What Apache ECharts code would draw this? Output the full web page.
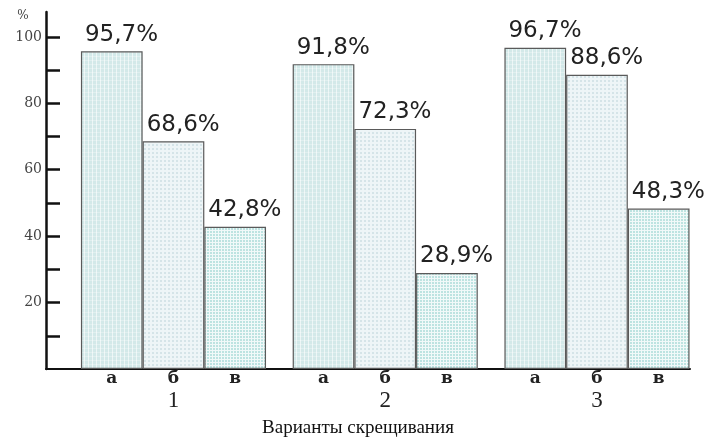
<!DOCTYPE html>
<html>
<head>
<meta charset="utf-8">
<title>Варианты скрещивания</title>
<script src="https://cdn.jsdelivr.net/npm/echarts@6/dist/echarts.min.js"></script>
<style>
  html, body { margin: 0; padding: 0; background: #ffffff; }
  #chart { width: 712px; height: 442px; }
</style>
</head>
<body>
<div id="chart"></div>
<script>
// Crossing variants and the share (%) for each sub-group а / б / в
const groups = ['1', '2', '3'];
const subLabels = ['а', 'б', 'в'];
const valuesA = [95.7, 91.8, 96.7];
const valuesB = [68.6, 72.3, 88.6];
const valuesV = [42.8, 28.9, 48.3];
const yTickValues = [10, 20, 30, 40, 50, 60, 70, 80, 90, 100];
const yLabelValues = [20, 40, 60, 80, 100];
const xTitle = 'Варианты скрещивания';

// Small tiled fills for the three bar kinds
function makePattern(size, draw) {
  const c = document.createElement('canvas');
  c.width = c.height = size;
  const ctx = c.getContext('2d');
  draw(ctx, size);
  return { image: c, repeat: 'repeat' };
}
const patterns = [
  makePattern(4, (ctx, s) => {          // fine plaid
    ctx.fillStyle = '#d3e9e9'; ctx.fillRect(0, 0, s, s);
    ctx.fillStyle = 'rgba(255,255,255,0.6)'; ctx.fillRect(0, 0, 1, s);
    ctx.fillStyle = 'rgba(255,255,255,0.3)'; ctx.fillRect(0, 0, s, 1);
  }),
  makePattern(4, (ctx, s) => {          // sparse dots
    ctx.fillStyle = '#eef5f7'; ctx.fillRect(0, 0, s, s);
    ctx.fillStyle = '#d5e4e8'; ctx.fillRect(0, 0, 2, 2);
  }),
  makePattern(3, (ctx, s) => {          // checker dots
    ctx.fillStyle = '#f1f9f9'; ctx.fillRect(0, 0, s, s);
    ctx.fillStyle = '#bde3e1'; ctx.fillRect(0, 0, 2, 2);
  })
];

const fmtPct = (v) => v.toFixed(1).replace('.', ',') + '%';

const chart = echarts.init(document.getElementById('chart'), null, { renderer: 'canvas' });

const barWidth = 61.7;

chart.setOption({
  animation: false,
  backgroundColor: '#ffffff',
  grid: [
    { left: 46, right: 22, top: 12, bottom: 73 },          // frame with the axes
    { left: 67.6, width: 635.25, top: 12, bottom: 73 }     // bar groups
  ],
  xAxis: [
    {
      gridIndex: 0, type: 'category', data: [''],
      axisLine: { show: true, lineStyle: { color: '#111', width: 2 } },
      axisTick: { show: false }, axisLabel: { show: false }, splitLine: { show: false }
    },
    {
      gridIndex: 1, type: 'category', data: groups,
      axisLine: { show: false }, axisTick: { show: false }, splitLine: { show: false },
      axisLabel: {
        margin: 0,
        interval: 0,
        formatter: (v) => subLabels.map(s => '{s|' + s + '}').join('') + '\n{g|' + v + '}',
        rich: {
          s: { width: barWidth, align: 'center', fontFamily: 'DejaVu Serif', fontWeight: 'bold',
               fontSize: 17, lineHeight: 20, color: '#222' },
          g: { align: 'center', fontFamily: 'Liberation Serif', fontSize: 23, lineHeight: 24, color: '#222' }
        }
      }
    }
  ],
  yAxis: [
    {
      gridIndex: 0, type: 'value', min: 0, max: 107.5,
      axisLine: { show: true, lineStyle: { color: '#111', width: 2.5 } },
      axisTick: { show: true, inside: true, length: 14, customValues: yTickValues,
                  lineStyle: { color: '#111', width: 2.5 } },
      axisLabel: { customValues: yLabelValues, margin: 4, fontFamily: 'DejaVu Serif',
                   fontSize: 14, color: '#444' },
      splitLine: { show: false }
    },
    { gridIndex: 1, type: 'value', min: 0, max: 107.5, show: false }
  ],
  graphic: [
    { type: 'text', x: 23, y: 16, style: { text: '%', font: '12px "DejaVu Serif"', fill: '#444',
      align: 'center', verticalAlign: 'middle' } },
    { type: 'text', x: 358, y: 428, style: { text: xTitle, font: '19px "Liberation Serif"', fill: '#111',
      align: 'center', verticalAlign: 'middle' } }
  ],
  series: [valuesA, valuesB, valuesV].map((vals, i) => ({
    type: 'bar',
    name: subLabels[i],
    xAxisIndex: 1, yAxisIndex: 1,
    data: vals,
    barWidth: barWidth,
    barGap: '0%',
    itemStyle: { color: patterns[i], borderColor: '#5a5a5a', borderWidth: 1.2 },
    label: {
      show: true, position: [4, -5], align: 'left', verticalAlign: 'bottom',
      formatter: (p) => fmtPct(p.value),
      fontFamily: 'DejaVu Sans', fontSize: 23, color: '#222'
    }
  }))
});
</script>
</body>
</html>
